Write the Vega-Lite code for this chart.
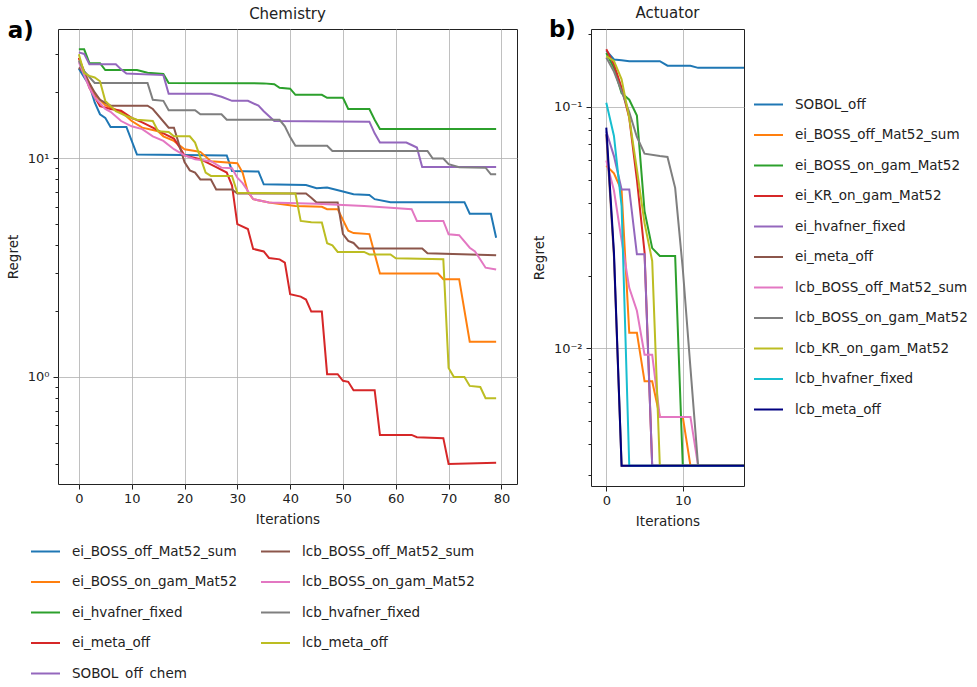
{
  "$schema": "https://vega.github.io/schema/vega-lite/v6.json",
  "padding": {"left": 5, "top": 5, "right": 5, "bottom": 0},
  "datasets": {
    "chem": [
      {"s":"ei_BOSS_off_Mat52_sum","x":0,"y":25.7},{"s":"ei_BOSS_off_Mat52_sum","x":1,"y":23.5},{"s":"ei_BOSS_off_Mat52_sum","x":2,"y":21.5},{"s":"ei_BOSS_off_Mat52_sum","x":3,"y":18},{"s":"ei_BOSS_off_Mat52_sum","x":4,"y":15.9},{"s":"ei_BOSS_off_Mat52_sum","x":5,"y":15.3},{"s":"ei_BOSS_off_Mat52_sum","x":6,"y":13.9},{"s":"ei_BOSS_off_Mat52_sum","x":9,"y":13.9},{"s":"ei_BOSS_off_Mat52_sum","x":11,"y":10.4},{"s":"ei_BOSS_off_Mat52_sum","x":28,"y":10.3},{"s":"ei_BOSS_off_Mat52_sum","x":29,"y":8.75},{"s":"ei_BOSS_off_Mat52_sum","x":34,"y":8.7},{"s":"ei_BOSS_off_Mat52_sum","x":35,"y":7.6},{"s":"ei_BOSS_off_Mat52_sum","x":43,"y":7.55},{"s":"ei_BOSS_off_Mat52_sum","x":45,"y":7.3},{"s":"ei_BOSS_off_Mat52_sum","x":47,"y":7.35},{"s":"ei_BOSS_off_Mat52_sum","x":50,"y":7.05},{"s":"ei_BOSS_off_Mat52_sum","x":52,"y":6.84},{"s":"ei_BOSS_off_Mat52_sum","x":55,"y":6.8},{"s":"ei_BOSS_off_Mat52_sum","x":56,"y":6.5},{"s":"ei_BOSS_off_Mat52_sum","x":59,"y":6.3},{"s":"ei_BOSS_off_Mat52_sum","x":73,"y":6.3},{"s":"ei_BOSS_off_Mat52_sum","x":74,"y":5.58},{"s":"ei_BOSS_off_Mat52_sum","x":78,"y":5.58},{"s":"ei_BOSS_off_Mat52_sum","x":79,"y":4.33},
      {"s":"ei_BOSS_on_gam_Mat52","x":0,"y":28.8},{"s":"ei_BOSS_on_gam_Mat52","x":1,"y":25},{"s":"ei_BOSS_on_gam_Mat52","x":2,"y":22},{"s":"ei_BOSS_on_gam_Mat52","x":3,"y":19.5},{"s":"ei_BOSS_on_gam_Mat52","x":4,"y":18.5},{"s":"ei_BOSS_on_gam_Mat52","x":5,"y":17.5},{"s":"ei_BOSS_on_gam_Mat52","x":6,"y":17.1},{"s":"ei_BOSS_on_gam_Mat52","x":8,"y":16.3},{"s":"ei_BOSS_on_gam_Mat52","x":10,"y":14.8},{"s":"ei_BOSS_on_gam_Mat52","x":12,"y":13.8},{"s":"ei_BOSS_on_gam_Mat52","x":15,"y":13.3},{"s":"ei_BOSS_on_gam_Mat52","x":16,"y":12.6},{"s":"ei_BOSS_on_gam_Mat52","x":18,"y":12},{"s":"ei_BOSS_on_gam_Mat52","x":20,"y":11},{"s":"ei_BOSS_on_gam_Mat52","x":22,"y":10.8},{"s":"ei_BOSS_on_gam_Mat52","x":23,"y":10.7},{"s":"ei_BOSS_on_gam_Mat52","x":25,"y":9.7},{"s":"ei_BOSS_on_gam_Mat52","x":30,"y":9.5},{"s":"ei_BOSS_on_gam_Mat52","x":31,"y":8.6},{"s":"ei_BOSS_on_gam_Mat52","x":32,"y":7},{"s":"ei_BOSS_on_gam_Mat52","x":33,"y":6.5},{"s":"ei_BOSS_on_gam_Mat52","x":36,"y":6.27},{"s":"ei_BOSS_on_gam_Mat52","x":41,"y":6.05},{"s":"ei_BOSS_on_gam_Mat52","x":46,"y":6},{"s":"ei_BOSS_on_gam_Mat52","x":47,"y":5.85},{"s":"ei_BOSS_on_gam_Mat52","x":49,"y":5.85},{"s":"ei_BOSS_on_gam_Mat52","x":51,"y":4.66},{"s":"ei_BOSS_on_gam_Mat52","x":52,"y":4.55},{"s":"ei_BOSS_on_gam_Mat52","x":55,"y":4.5},{"s":"ei_BOSS_on_gam_Mat52","x":57,"y":2.97},{"s":"ei_BOSS_on_gam_Mat52","x":68,"y":2.97},{"s":"ei_BOSS_on_gam_Mat52","x":69,"y":2.8},{"s":"ei_BOSS_on_gam_Mat52","x":72,"y":2.8},{"s":"ei_BOSS_on_gam_Mat52","x":74,"y":1.45},{"s":"ei_BOSS_on_gam_Mat52","x":79,"y":1.45},
      {"s":"ei_hvafner_fixed","x":0,"y":31.5},{"s":"ei_hvafner_fixed","x":1,"y":31.5},{"s":"ei_hvafner_fixed","x":2,"y":27.2},{"s":"ei_hvafner_fixed","x":4,"y":27.2},{"s":"ei_hvafner_fixed","x":5,"y":25.3},{"s":"ei_hvafner_fixed","x":11,"y":25.3},{"s":"ei_hvafner_fixed","x":13,"y":24.6},{"s":"ei_hvafner_fixed","x":16,"y":24.3},{"s":"ei_hvafner_fixed","x":17,"y":22.1},{"s":"ei_hvafner_fixed","x":35,"y":22},{"s":"ei_hvafner_fixed","x":37,"y":21.8},{"s":"ei_hvafner_fixed","x":38,"y":21},{"s":"ei_hvafner_fixed","x":40,"y":20.8},{"s":"ei_hvafner_fixed","x":41,"y":19.5},{"s":"ei_hvafner_fixed","x":46,"y":19.5},{"s":"ei_hvafner_fixed","x":47,"y":18.9},{"s":"ei_hvafner_fixed","x":50,"y":18.9},{"s":"ei_hvafner_fixed","x":51,"y":16.8},{"s":"ei_hvafner_fixed","x":55,"y":16.8},{"s":"ei_hvafner_fixed","x":56,"y":15},{"s":"ei_hvafner_fixed","x":57,"y":13.6},{"s":"ei_hvafner_fixed","x":79,"y":13.6},
      {"s":"ei_meta_off","x":0,"y":28.8},{"s":"ei_meta_off","x":2,"y":21},{"s":"ei_meta_off","x":4,"y":17.3},{"s":"ei_meta_off","x":6,"y":16.8},{"s":"ei_meta_off","x":8,"y":16.5},{"s":"ei_meta_off","x":10,"y":15.3},{"s":"ei_meta_off","x":12,"y":14.6},{"s":"ei_meta_off","x":14,"y":13.8},{"s":"ei_meta_off","x":16,"y":13},{"s":"ei_meta_off","x":18,"y":12.3},{"s":"ei_meta_off","x":19,"y":11.3},{"s":"ei_meta_off","x":20,"y":10.3},{"s":"ei_meta_off","x":23,"y":9.9},{"s":"ei_meta_off","x":26,"y":9.1},{"s":"ei_meta_off","x":28,"y":8.6},{"s":"ei_meta_off","x":29,"y":7.5},{"s":"ei_meta_off","x":30,"y":5},{"s":"ei_meta_off","x":32,"y":4.75},{"s":"ei_meta_off","x":33,"y":3.85},{"s":"ei_meta_off","x":35,"y":3.75},{"s":"ei_meta_off","x":36,"y":3.5},{"s":"ei_meta_off","x":38,"y":3.45},{"s":"ei_meta_off","x":39,"y":3.33},{"s":"ei_meta_off","x":40,"y":2.39},{"s":"ei_meta_off","x":42,"y":2.33},{"s":"ei_meta_off","x":43,"y":2.26},{"s":"ei_meta_off","x":44,"y":1.99},{"s":"ei_meta_off","x":46,"y":1.99},{"s":"ei_meta_off","x":47,"y":1.03},{"s":"ei_meta_off","x":49,"y":1.03},{"s":"ei_meta_off","x":50,"y":0.96},{"s":"ei_meta_off","x":51,"y":0.95},{"s":"ei_meta_off","x":52,"y":0.87},{"s":"ei_meta_off","x":56,"y":0.87},{"s":"ei_meta_off","x":57,"y":0.543},{"s":"ei_meta_off","x":63,"y":0.543},{"s":"ei_meta_off","x":64,"y":0.53},{"s":"ei_meta_off","x":69,"y":0.525},{"s":"ei_meta_off","x":70,"y":0.4},{"s":"ei_meta_off","x":79,"y":0.405},
      {"s":"SOBOL_off_chem","x":0,"y":30.5},{"s":"SOBOL_off_chem","x":1,"y":30},{"s":"SOBOL_off_chem","x":2,"y":26.9},{"s":"SOBOL_off_chem","x":7,"y":26.9},{"s":"SOBOL_off_chem","x":8,"y":25.5},{"s":"SOBOL_off_chem","x":9,"y":24.4},{"s":"SOBOL_off_chem","x":16,"y":24},{"s":"SOBOL_off_chem","x":17,"y":19.7},{"s":"SOBOL_off_chem","x":25,"y":19.7},{"s":"SOBOL_off_chem","x":27,"y":19.1},{"s":"SOBOL_off_chem","x":29,"y":18.3},{"s":"SOBOL_off_chem","x":32,"y":18.3},{"s":"SOBOL_off_chem","x":34,"y":17.4},{"s":"SOBOL_off_chem","x":35,"y":16.4},{"s":"SOBOL_off_chem","x":37,"y":14.8},{"s":"SOBOL_off_chem","x":55,"y":14.7},{"s":"SOBOL_off_chem","x":56,"y":13},{"s":"SOBOL_off_chem","x":57,"y":11.8},{"s":"SOBOL_off_chem","x":62,"y":11.8},{"s":"SOBOL_off_chem","x":63,"y":11.5},{"s":"SOBOL_off_chem","x":64,"y":11.2},{"s":"SOBOL_off_chem","x":65,"y":9.12},{"s":"SOBOL_off_chem","x":79,"y":9.12},
      {"s":"lcb_BOSS_off_Mat52_sum","x":0,"y":26},{"s":"lcb_BOSS_off_Mat52_sum","x":1,"y":24.5},{"s":"lcb_BOSS_off_Mat52_sum","x":2,"y":22},{"s":"lcb_BOSS_off_Mat52_sum","x":3,"y":20},{"s":"lcb_BOSS_off_Mat52_sum","x":4,"y":18.5},{"s":"lcb_BOSS_off_Mat52_sum","x":6,"y":17.4},{"s":"lcb_BOSS_off_Mat52_sum","x":13,"y":17.4},{"s":"lcb_BOSS_off_Mat52_sum","x":14,"y":16.8},{"s":"lcb_BOSS_off_Mat52_sum","x":17,"y":13.8},{"s":"lcb_BOSS_off_Mat52_sum","x":18,"y":13.8},{"s":"lcb_BOSS_off_Mat52_sum","x":19,"y":11.5},{"s":"lcb_BOSS_off_Mat52_sum","x":20,"y":9.6},{"s":"lcb_BOSS_off_Mat52_sum","x":21,"y":8.8},{"s":"lcb_BOSS_off_Mat52_sum","x":22,"y":8.6},{"s":"lcb_BOSS_off_Mat52_sum","x":23,"y":8},{"s":"lcb_BOSS_off_Mat52_sum","x":25,"y":8},{"s":"lcb_BOSS_off_Mat52_sum","x":26,"y":7.2},{"s":"lcb_BOSS_off_Mat52_sum","x":29,"y":7.2},{"s":"lcb_BOSS_off_Mat52_sum","x":30,"y":6.9},{"s":"lcb_BOSS_off_Mat52_sum","x":43,"y":6.9},{"s":"lcb_BOSS_off_Mat52_sum","x":44,"y":6.6},{"s":"lcb_BOSS_off_Mat52_sum","x":45,"y":6.27},{"s":"lcb_BOSS_off_Mat52_sum","x":49,"y":6.27},{"s":"lcb_BOSS_off_Mat52_sum","x":50,"y":4.5},{"s":"lcb_BOSS_off_Mat52_sum","x":51,"y":4.19},{"s":"lcb_BOSS_off_Mat52_sum","x":52,"y":4.1},{"s":"lcb_BOSS_off_Mat52_sum","x":53,"y":3.87},{"s":"lcb_BOSS_off_Mat52_sum","x":65,"y":3.87},{"s":"lcb_BOSS_off_Mat52_sum","x":66,"y":3.68},{"s":"lcb_BOSS_off_Mat52_sum","x":79,"y":3.6},
      {"s":"lcb_BOSS_on_gam_Mat52","x":0,"y":27.5},{"s":"lcb_BOSS_on_gam_Mat52","x":1,"y":24},{"s":"lcb_BOSS_on_gam_Mat52","x":2,"y":21},{"s":"lcb_BOSS_on_gam_Mat52","x":3,"y":19},{"s":"lcb_BOSS_on_gam_Mat52","x":5,"y":16.8},{"s":"lcb_BOSS_on_gam_Mat52","x":6,"y":16.3},{"s":"lcb_BOSS_on_gam_Mat52","x":8,"y":14.8},{"s":"lcb_BOSS_on_gam_Mat52","x":10,"y":14},{"s":"lcb_BOSS_on_gam_Mat52","x":12,"y":13.6},{"s":"lcb_BOSS_on_gam_Mat52","x":14,"y":12.6},{"s":"lcb_BOSS_on_gam_Mat52","x":16,"y":12},{"s":"lcb_BOSS_on_gam_Mat52","x":18,"y":11},{"s":"lcb_BOSS_on_gam_Mat52","x":20,"y":10.3},{"s":"lcb_BOSS_on_gam_Mat52","x":22,"y":9.9},{"s":"lcb_BOSS_on_gam_Mat52","x":25,"y":9.7},{"s":"lcb_BOSS_on_gam_Mat52","x":27,"y":9.06},{"s":"lcb_BOSS_on_gam_Mat52","x":29,"y":9},{"s":"lcb_BOSS_on_gam_Mat52","x":30,"y":8.15},{"s":"lcb_BOSS_on_gam_Mat52","x":31,"y":7.7},{"s":"lcb_BOSS_on_gam_Mat52","x":32,"y":7.08},{"s":"lcb_BOSS_on_gam_Mat52","x":33,"y":6.5},{"s":"lcb_BOSS_on_gam_Mat52","x":36,"y":6.27},{"s":"lcb_BOSS_on_gam_Mat52","x":45,"y":6.2},{"s":"lcb_BOSS_on_gam_Mat52","x":48,"y":6.15},{"s":"lcb_BOSS_on_gam_Mat52","x":54,"y":6.05},{"s":"lcb_BOSS_on_gam_Mat52","x":59,"y":5.94},{"s":"lcb_BOSS_on_gam_Mat52","x":63,"y":5.85},{"s":"lcb_BOSS_on_gam_Mat52","x":64,"y":5.17},{"s":"lcb_BOSS_on_gam_Mat52","x":69,"y":5.17},{"s":"lcb_BOSS_on_gam_Mat52","x":70,"y":4.49},{"s":"lcb_BOSS_on_gam_Mat52","x":72,"y":4.45},{"s":"lcb_BOSS_on_gam_Mat52","x":74,"y":3.9},{"s":"lcb_BOSS_on_gam_Mat52","x":75,"y":3.75},{"s":"lcb_BOSS_on_gam_Mat52","x":77,"y":3.16},{"s":"lcb_BOSS_on_gam_Mat52","x":79,"y":3.1},
      {"s":"lcb_hvafner_fixed","x":0,"y":28},{"s":"lcb_hvafner_fixed","x":1,"y":25},{"s":"lcb_hvafner_fixed","x":3,"y":22.1},{"s":"lcb_hvafner_fixed","x":13,"y":22.1},{"s":"lcb_hvafner_fixed","x":14,"y":18.5},{"s":"lcb_hvafner_fixed","x":16,"y":18.3},{"s":"lcb_hvafner_fixed","x":17,"y":16.6},{"s":"lcb_hvafner_fixed","x":22,"y":16.6},{"s":"lcb_hvafner_fixed","x":23,"y":15.9},{"s":"lcb_hvafner_fixed","x":27,"y":15.9},{"s":"lcb_hvafner_fixed","x":28,"y":15},{"s":"lcb_hvafner_fixed","x":38,"y":15},{"s":"lcb_hvafner_fixed","x":39,"y":14},{"s":"lcb_hvafner_fixed","x":40,"y":12.5},{"s":"lcb_hvafner_fixed","x":41,"y":11.4},{"s":"lcb_hvafner_fixed","x":47,"y":11.4},{"s":"lcb_hvafner_fixed","x":48,"y":10.8},{"s":"lcb_hvafner_fixed","x":66,"y":10.8},{"s":"lcb_hvafner_fixed","x":67,"y":9.97},{"s":"lcb_hvafner_fixed","x":69,"y":9.97},{"s":"lcb_hvafner_fixed","x":70,"y":9.4},{"s":"lcb_hvafner_fixed","x":72,"y":9.1},{"s":"lcb_hvafner_fixed","x":77,"y":9.05},{"s":"lcb_hvafner_fixed","x":78,"y":8.45},{"s":"lcb_hvafner_fixed","x":79,"y":8.45},
      {"s":"lcb_meta_off","x":0,"y":29.9},{"s":"lcb_meta_off","x":1,"y":24.5},{"s":"lcb_meta_off","x":2,"y":23.8},{"s":"lcb_meta_off","x":3,"y":23.4},{"s":"lcb_meta_off","x":4,"y":22.5},{"s":"lcb_meta_off","x":5,"y":18.3},{"s":"lcb_meta_off","x":7,"y":16.4},{"s":"lcb_meta_off","x":9,"y":15.6},{"s":"lcb_meta_off","x":11,"y":15},{"s":"lcb_meta_off","x":14,"y":14.8},{"s":"lcb_meta_off","x":15,"y":13.3},{"s":"lcb_meta_off","x":17,"y":13.2},{"s":"lcb_meta_off","x":18,"y":12.6},{"s":"lcb_meta_off","x":21,"y":12.6},{"s":"lcb_meta_off","x":22,"y":11.8},{"s":"lcb_meta_off","x":23,"y":10.1},{"s":"lcb_meta_off","x":24,"y":8.6},{"s":"lcb_meta_off","x":25,"y":8.3},{"s":"lcb_meta_off","x":29,"y":8.3},{"s":"lcb_meta_off","x":30,"y":6.96},{"s":"lcb_meta_off","x":41,"y":6.9},{"s":"lcb_meta_off","x":42,"y":5.17},{"s":"lcb_meta_off","x":44,"y":5.1},{"s":"lcb_meta_off","x":46,"y":5.08},{"s":"lcb_meta_off","x":47,"y":4.09},{"s":"lcb_meta_off","x":48,"y":4},{"s":"lcb_meta_off","x":49,"y":3.73},{"s":"lcb_meta_off","x":54,"y":3.73},{"s":"lcb_meta_off","x":55,"y":3.63},{"s":"lcb_meta_off","x":59,"y":3.63},{"s":"lcb_meta_off","x":60,"y":3.49},{"s":"lcb_meta_off","x":69,"y":3.45},{"s":"lcb_meta_off","x":70,"y":1.1},{"s":"lcb_meta_off","x":71,"y":1},{"s":"lcb_meta_off","x":73,"y":1},{"s":"lcb_meta_off","x":74,"y":0.91},{"s":"lcb_meta_off","x":76,"y":0.9},{"s":"lcb_meta_off","x":77,"y":0.8},{"s":"lcb_meta_off","x":79,"y":0.8}
    ],
    "act": [
      {"s":"SOBOL_off","x":0,"y":0.171},{"s":"SOBOL_off","x":1,"y":0.157},{"s":"SOBOL_off","x":2,"y":0.156},{"s":"SOBOL_off","x":3,"y":0.1545},{"s":"SOBOL_off","x":7,"y":0.1545},{"s":"SOBOL_off","x":8,"y":0.148},{"s":"SOBOL_off","x":11,"y":0.148},{"s":"SOBOL_off","x":12,"y":0.145},{"s":"SOBOL_off","x":18,"y":0.145},
      {"s":"ei_BOSS_off_Mat52_sum","x":0,"y":0.057},{"s":"ei_BOSS_off_Mat52_sum","x":1,"y":0.053},{"s":"ei_BOSS_off_Mat52_sum","x":2,"y":0.045},{"s":"ei_BOSS_off_Mat52_sum","x":3,"y":0.0116},{"s":"ei_BOSS_off_Mat52_sum","x":4,"y":0.0116},{"s":"ei_BOSS_off_Mat52_sum","x":5,"y":0.0073},{"s":"ei_BOSS_off_Mat52_sum","x":6,"y":0.0073},{"s":"ei_BOSS_off_Mat52_sum","x":7,"y":0.0052},{"s":"ei_BOSS_off_Mat52_sum","x":10,"y":0.0052},{"s":"ei_BOSS_off_Mat52_sum","x":11,"y":0.00326},{"s":"ei_BOSS_off_Mat52_sum","x":18,"y":0.00326},
      {"s":"ei_BOSS_on_gam_Mat52","x":0,"y":0.167},{"s":"ei_BOSS_on_gam_Mat52","x":1,"y":0.145},{"s":"ei_BOSS_on_gam_Mat52","x":2,"y":0.114},{"s":"ei_BOSS_on_gam_Mat52","x":3,"y":0.107},{"s":"ei_BOSS_on_gam_Mat52","x":4,"y":0.092},{"s":"ei_BOSS_on_gam_Mat52","x":5,"y":0.037},{"s":"ei_BOSS_on_gam_Mat52","x":6,"y":0.026},{"s":"ei_BOSS_on_gam_Mat52","x":7,"y":0.0241},{"s":"ei_BOSS_on_gam_Mat52","x":9,"y":0.0241},{"s":"ei_BOSS_on_gam_Mat52","x":10,"y":0.00326},{"s":"ei_BOSS_on_gam_Mat52","x":18,"y":0.00326},
      {"s":"ei_KR_on_gam_Mat52","x":0,"y":0.173},{"s":"ei_KR_on_gam_Mat52","x":1,"y":0.15},{"s":"ei_KR_on_gam_Mat52","x":2,"y":0.12},{"s":"ei_KR_on_gam_Mat52","x":3,"y":0.09},{"s":"ei_KR_on_gam_Mat52","x":4,"y":0.05},{"s":"ei_KR_on_gam_Mat52","x":5,"y":0.025},{"s":"ei_KR_on_gam_Mat52","x":6,"y":0.00326},{"s":"ei_KR_on_gam_Mat52","x":18,"y":0.00326},
      {"s":"ei_hvafner_fixed","x":0,"y":0.079},{"s":"ei_hvafner_fixed","x":1,"y":0.0625},{"s":"ei_hvafner_fixed","x":2,"y":0.0455},{"s":"ei_hvafner_fixed","x":3,"y":0.0455},{"s":"ei_hvafner_fixed","x":4,"y":0.0245},{"s":"ei_hvafner_fixed","x":5,"y":0.0245},{"s":"ei_hvafner_fixed","x":6,"y":0.00326},{"s":"ei_hvafner_fixed","x":18,"y":0.00326},
      {"s":"ei_meta_off","x":0,"y":0.077},{"s":"ei_meta_off","x":1,"y":0.024},{"s":"ei_meta_off","x":2,"y":0.00326},{"s":"ei_meta_off","x":18,"y":0.00326},
      {"s":"lcb_BOSS_off_Mat52_sum","x":0,"y":0.06},{"s":"lcb_BOSS_off_Mat52_sum","x":1,"y":0.045},{"s":"lcb_BOSS_off_Mat52_sum","x":2,"y":0.028},{"s":"lcb_BOSS_off_Mat52_sum","x":3,"y":0.0178},{"s":"lcb_BOSS_off_Mat52_sum","x":4,"y":0.0143},{"s":"lcb_BOSS_off_Mat52_sum","x":5,"y":0.0094},{"s":"lcb_BOSS_off_Mat52_sum","x":6,"y":0.0094},{"s":"lcb_BOSS_off_Mat52_sum","x":7,"y":0.0052},{"s":"lcb_BOSS_off_Mat52_sum","x":11,"y":0.0052},{"s":"lcb_BOSS_off_Mat52_sum","x":12,"y":0.00326},{"s":"lcb_BOSS_off_Mat52_sum","x":18,"y":0.00326},
      {"s":"lcb_BOSS_on_gam_Mat52","x":0,"y":0.16},{"s":"lcb_BOSS_on_gam_Mat52","x":1,"y":0.14},{"s":"lcb_BOSS_on_gam_Mat52","x":2,"y":0.116},{"s":"lcb_BOSS_on_gam_Mat52","x":3,"y":0.095},{"s":"lcb_BOSS_on_gam_Mat52","x":4,"y":0.075},{"s":"lcb_BOSS_on_gam_Mat52","x":5,"y":0.064},{"s":"lcb_BOSS_on_gam_Mat52","x":7,"y":0.0625},{"s":"lcb_BOSS_on_gam_Mat52","x":8,"y":0.062},{"s":"lcb_BOSS_on_gam_Mat52","x":9,"y":0.0462},{"s":"lcb_BOSS_on_gam_Mat52","x":10,"y":0.0213},{"s":"lcb_BOSS_on_gam_Mat52","x":11,"y":0.0083},{"s":"lcb_BOSS_on_gam_Mat52","x":12,"y":0.00326},{"s":"lcb_BOSS_on_gam_Mat52","x":18,"y":0.00326},
      {"s":"lcb_KR_on_gam_Mat52","x":0,"y":0.162},{"s":"lcb_KR_on_gam_Mat52","x":1,"y":0.155},{"s":"lcb_KR_on_gam_Mat52","x":2,"y":0.13},{"s":"lcb_KR_on_gam_Mat52","x":3,"y":0.09},{"s":"lcb_KR_on_gam_Mat52","x":4,"y":0.055},{"s":"lcb_KR_on_gam_Mat52","x":5,"y":0.033},{"s":"lcb_KR_on_gam_Mat52","x":6,"y":0.023},{"s":"lcb_KR_on_gam_Mat52","x":7,"y":0.00326},{"s":"lcb_KR_on_gam_Mat52","x":18,"y":0.00326},
      {"s":"lcb_hvafner_fixed","x":0,"y":0.104},{"s":"lcb_hvafner_fixed","x":1,"y":0.0757},{"s":"lcb_hvafner_fixed","x":2,"y":0.0388},{"s":"lcb_hvafner_fixed","x":3,"y":0.00326},{"s":"lcb_hvafner_fixed","x":18,"y":0.00326},
      {"s":"lcb_meta_off","x":0,"y":0.082},{"s":"lcb_meta_off","x":1,"y":0.025},{"s":"lcb_meta_off","x":2,"y":0.00326},{"s":"lcb_meta_off","x":18,"y":0.00326}
    ]
  },
  "config": {
    "font": "DejaVu Sans",
    "view": {"stroke": "#222222", "strokeWidth": 1},
    "axis": {"domain": false, "grid": true, "gridColor": "#b0b0b0", "gridWidth": 0.8, "tickColor": "#222222", "tickWidth": 1, "labelColor": "#222222", "labelFontSize": 13, "labelFont": "DejaVu Sans", "titleFont": "DejaVu Sans", "titleFontSize": 13.5, "titleFontWeight": "normal", "titleColor": "#222222", "labelOverlap": false},
    "legend": {"labelFont": "DejaVu Sans", "labelFontSize": 13.5, "labelColor": "#222222", "labelLimit": 400, "symbolType": "stroke", "symbolStrokeWidth": 2, "symbolSize": 841, "labelOffset": 11, "rowPadding": 8.5, "title": null},
    "title": {"font": "DejaVu Sans", "fontSize": 15, "fontWeight": "normal", "color": "#222222"}
  },
  "spacing": 13,
  "resolve": {"scale": {"color": "independent", "x": "independent", "y": "independent"}, "legend": {"color": "independent"}},
  "hconcat": [
    {
      "title": {"text": "a)", "anchor": "start", "frame": "bounds", "fontSize": 23, "fontWeight": "bold", "color": "#000000", "offset": -36, "dx": 2},
      "vconcat": [
        {
          "width": 459,
          "height": 455,
          "title": {"text": "Chemistry", "offset": 7},
          "data": {"name": "chem"},
          "mark": {"type": "line", "strokeWidth": 2, "clip": true},
          "encoding": {
            "x": {"field": "x", "type": "quantitative", "scale": {"domain": [-3.95, 82.95], "nice": false, "zero": false},
                  "axis": {"values": [0,10,20,30,40,50,60,70,80], "title": "Iterations", "tickSize": 5, "labelPadding": 3, "titlePadding": 7}},
            "y": {"field": "y", "type": "quantitative", "scale": {"type": "log", "domain": [0.324, 39], "nice": false},
                  "axis": {"values": [0.4,0.5,0.6,0.7,0.8,0.9,1,2,3,4,5,6,7,8,9,10,20,30], "title": "Regret", "labelPadding": 4, "titlePadding": 7,
                           "labelExpr": "datum.value == 1 ? '10⁰' : (datum.value == 10 ? '10¹' : '')",
                           "gridOpacity": {"condition": {"test": "datum.value == 1 || datum.value == 10", "value": 1}, "value": 0},
                           "tickSize": {"condition": {"test": "datum.value == 1 || datum.value == 10", "value": 5}, "value": 3}}},
            "color": {"field": "s", "type": "nominal",
                      "scale": {"domain": ["ei_BOSS_off_Mat52_sum","ei_BOSS_on_gam_Mat52","ei_hvafner_fixed","ei_meta_off","SOBOL_off_chem","lcb_BOSS_off_Mat52_sum","lcb_BOSS_on_gam_Mat52","lcb_hvafner_fixed","lcb_meta_off"],
                                "range": ["#1f77b4","#ff7f0e","#2ca02c","#d62728","#9467bd","#8c564b","#e377c2","#7f7f7f","#bcbd22"]},
                      "legend": {"orient": "none", "legendX": -28, "legendY": 507, "columns": 2, "columnPadding": 19, "direction": "vertical"}}
          }
        }
      ]
    },
    {
      "title": {"text": "b)", "anchor": "start", "frame": "bounds", "fontSize": 23, "fontWeight": "bold", "color": "#000000", "offset": -36, "dx": 17},
      "vconcat": [
        {
          "width": 153,
          "height": 457,
          "title": {"text": "Actuator", "offset": 7},
          "data": {"name": "act"},
          "mark": {"type": "line", "strokeWidth": 2, "clip": true},
          "encoding": {
            "x": {"field": "x", "type": "quantitative", "scale": {"domain": [-2, 18], "nice": false, "zero": false},
                  "axis": {"values": [0,10], "title": "Iterations", "tickSize": 5, "labelPadding": 3, "titlePadding": 7}},
            "y": {"field": "y", "type": "quantitative", "scale": {"type": "log", "domain": [0.00269, 0.21], "nice": false},
                  "axis": {"values": [0.003,0.004,0.005,0.006,0.007,0.008,0.009,0.01,0.02,0.03,0.04,0.05,0.06,0.07,0.08,0.09,0.1,0.2], "title": "Regret", "labelPadding": 4, "titlePadding": 7,
                           "labelExpr": "datum.value == 0.01 ? '10⁻²' : (datum.value == 0.1 ? '10⁻¹' : '')",
                           "gridOpacity": {"condition": {"test": "datum.value == 0.01 || datum.value == 0.1", "value": 1}, "value": 0},
                           "tickSize": {"condition": {"test": "datum.value == 0.01 || datum.value == 0.1", "value": 5}, "value": 3}}},
            "color": {"field": "s", "type": "nominal",
                      "scale": {"domain": ["SOBOL_off","ei_BOSS_off_Mat52_sum","ei_BOSS_on_gam_Mat52","ei_KR_on_gam_Mat52","ei_hvafner_fixed","ei_meta_off","lcb_BOSS_off_Mat52_sum","lcb_BOSS_on_gam_Mat52","lcb_KR_on_gam_Mat52","lcb_hvafner_fixed","lcb_meta_off"],
                                "range": ["#1f77b4","#ff7f0e","#2ca02c","#d62728","#9467bd","#8c564b","#e377c2","#7f7f7f","#bcbd22","#17becf","#000080"]},
                      "legend": {"orient": "none", "legendX": 162, "legendY": 60, "direction": "vertical"}}
          }
        }
      ]
    }
  ]
}
